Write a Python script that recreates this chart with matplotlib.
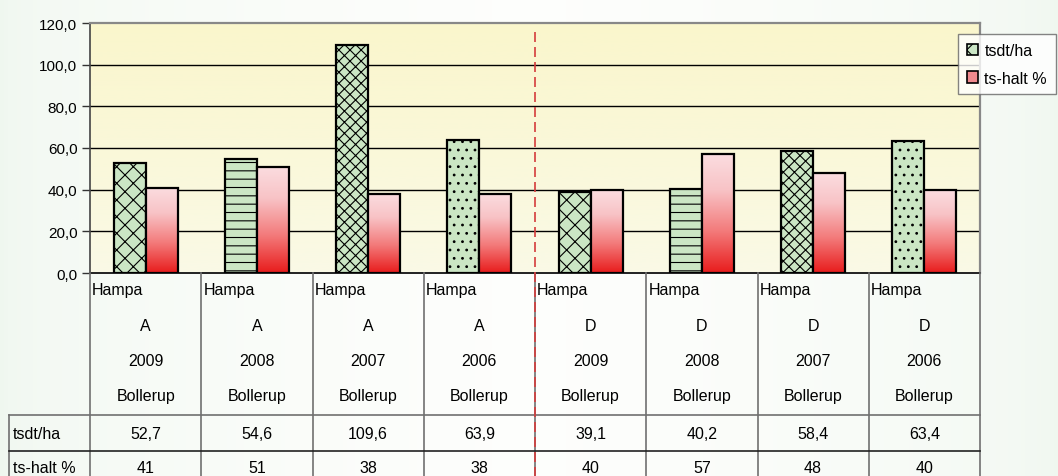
import numpy as np
import matplotlib
matplotlib.use("Agg")
import matplotlib.pyplot as plt
from matplotlib.colors import LinearSegmentedColormap
from matplotlib.patches import Patch
from matplotlib.transforms import blended_transform_factory
from matplotlib.ticker import FuncFormatter

# ---------------- data ----------------
crop = ["Hampa"] * 8
variety = ["A", "A", "A", "A", "D", "D", "D", "D"]
years = ["2009", "2008", "2007", "2006", "2009", "2008", "2007", "2006"]
site = ["Bollerup"] * 8
tsdt_ha = [52.7, 54.6, 109.6, 63.9, 39.1, 40.2, 58.4, 63.4]
ts_halt = [41, 51, 38, 38, 40, 57, 48, 40]
series_names = ["tsdt/ha", "ts-halt %"]
yticks = [0, 20, 40, 60, 80, 100, 120]
hatches = ["xx", "--", "xxx", "..", "xx", "--", "xxx", ".."]

plt.rcParams['font.family'] = ['Liberation Sans', 'DejaVu Sans']
plt.rcParams['hatch.linewidth'] = 0.8
FS = 11
FT = 11.5

W, H = 1058, 477
fig = plt.figure(figsize=(W / 100, H / 100), dpi=100)

# figure background gradient
bg = fig.add_axes([0, 0, 1, 1], zorder=-10)
xs = np.linspace(0, 1, 256)
c_edge = np.array([0.94, 0.97, 0.94])
c_mid = np.array([0.995, 0.997, 0.99])
t = 1 - np.abs(xs - 0.5) * 2
row = c_edge[None, :] * (1 - t[:, None] ** 0.5) + c_mid[None, :] * (t[:, None] ** 0.5)
bg.imshow(row[None, :, :], aspect='auto', extent=[0, 1, 0, 1])
bg.axis('off')

def fx(px):
    return px / W

def fy(py):
    return 1 - py / H

L, R, T, B = 90, 980, 24, 274
ax = fig.add_axes([fx(L), fy(B), fx(R) - fx(L), fy(T) - fy(B)])
ax.set_facecolor('none')
n = len(tsdt_ha)
ax.set_xlim(-0.5, n - 0.5)
ax.set_ylim(0, 120)

# plot-area gradient (yellow)
ygrad = np.linspace(0, 1, 256)[:, None]
ycmap = LinearSegmentedColormap.from_list('yb', ['#fafae6', '#faf6cc'])
ax.imshow(ygrad, aspect='auto', cmap=ycmap, origin='lower',
          extent=[-0.5, n - 0.5, 0, 120], zorder=0)

for v in yticks[1:-1]:
    ax.axhline(v, color='black', lw=1.0, zorder=1)

x = np.arange(n)
bw = 0.288
green = '#cbe6c4'
gb = ax.bar(x - bw / 2, tsdt_ha, bw, color=green, edgecolor='black',
            linewidth=1.6, zorder=3)
for p, h in zip(gb.patches, hatches):
    p.set_hatch(h)

rcmap = LinearSegmentedColormap.from_list('rg', [(0.0, '#e81c1c'), (0.35, '#f37a7a'),
                                                 (0.7, '#f8c3c6'), (1.0, '#fbdde0')])
rb = ax.bar(x + bw / 2, ts_halt, bw, color='none', edgecolor='black',
            linewidth=1.6, zorder=4)
for p in rb.patches:
    x0 = p.get_x()
    h = p.get_height()
    im = ax.imshow(ygrad, aspect='auto', cmap=rcmap, origin='lower',
                   extent=[x0, x0 + p.get_width(), 0, h], zorder=3)
    im.set_clip_path(p)
ax.set_xlim(-0.5, n - 0.5)
ax.set_ylim(0, 120)

ax.set_yticks(yticks)
ax.yaxis.set_major_formatter(FuncFormatter(lambda v, _: f"{v:.1f}".replace('.', ',')))
ax.tick_params(axis='y', direction='out', length=6, width=1, color='#333333',
               labelsize=FS, pad=3)
ax.set_xticks([])
for s in ['top', 'right']:
    ax.spines[s].set_color('#888888')
    ax.spines[s].set_linewidth(1.6)
ax.spines['left'].set_color('#444444')
ax.spines['left'].set_linewidth(1.2)
ax.spines['bottom'].set_color('#222222')
ax.spines['bottom'].set_linewidth(1.4)

# ---------------- data table ----------------
tr = blended_transform_factory(ax.transData, fig.transFigure)
grey = '#707070'
row_top, row_mid = 416, 452
for b in np.arange(-0.5, n, 1.0):
    fig.add_artist(plt.Line2D([b, b], [fy(B), 0], transform=tr, color=grey, lw=1.2))
xl = fx(9)
fig.add_artist(plt.Line2D([xl, xl], [fy(row_top), 0], transform=fig.transFigure,
                          color=grey, lw=1.2))
fig.add_artist(plt.Line2D([xl, fx(R)], [fy(row_top), fy(row_top)],
                          transform=fig.transFigure, color=grey, lw=1.2))
fig.add_artist(plt.Line2D([xl, fx(R)], [fy(row_mid), fy(row_mid)],
                          transform=fig.transFigure, color='#222222', lw=1.2))

for i in range(n):
    fig.text(i - 0.5 + 0.02, fy(291), crop[i], transform=tr, ha='left', va='center', fontsize=FT)
    fig.text(i, fy(327), variety[i], transform=tr, ha='center', va='center', fontsize=FT)
    fig.text(i, fy(362), years[i], transform=tr, ha='center', va='center', fontsize=FT)
    fig.text(i, fy(396), site[i], transform=tr, ha='center', va='center', fontsize=FT)
    fig.text(i, fy(435), f"{tsdt_ha[i]:.1f}".replace('.', ','), transform=tr,
             ha='center', va='center', fontsize=FT)
    fig.text(i, fy(469), f"{ts_halt[i]}", transform=tr, ha='center', va='center', fontsize=FT)

fig.text(fx(13), fy(435), series_names[0], ha='left', va='center', fontsize=FT)
fig.text(fx(13), fy(469), series_names[1], ha='left', va='center', fontsize=FT)

# red dashed separator
fig.add_artist(plt.Line2D([3.5, 3.5], [fy(33), 0], transform=tr, color='#d43c3c',
                          lw=1.2, dashes=(6, 3)))

# ---------------- legend ----------------
handles = [Patch(facecolor=green, edgecolor='black', hatch='xx', linewidth=1.2),
           Patch(facecolor='#f08a8e', edgecolor='black', linewidth=1.2)]
leg = fig.legend(handles, series_names, loc='upper left',
                 bbox_to_anchor=(fx(958), fy(35)), fontsize=FT, frameon=True,
                 fancybox=False, edgecolor='#666666', handlelength=0.7,
                 handleheight=0.7, handletextpad=0.4, labelspacing=0.8,
                 borderpad=0.55, borderaxespad=0)
leg.get_frame().set_linewidth(1.0)
leg.get_frame().set_facecolor('white')
leg.set_zorder(10)

fig.savefig('out.png', dpi=100)
